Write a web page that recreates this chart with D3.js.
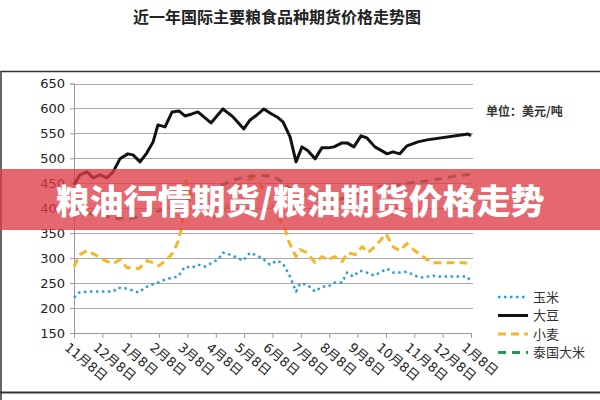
<!DOCTYPE html>
<html>
  <head>
    <meta charset="utf-8">
    <title>近一年国际主要粮食品种期货价格走势图</title>
    <script src="https://d3js.org/d3.v7.min.js"></script>
    <style>
      body { margin: 0; background: #fff; }
      text { font-family: "DejaVu Sans", "Noto Sans CJK SC", sans-serif; }
    </style>
  </head>
  <body>
    <svg id="chart" width="600" height="400"></svg>
    <script>
      // x ticks, one per month
      let monthLabels = ["11月8日", "12月8日", "1月8日", "2月8日", "3月8日", "4月8日", "5月8日",
        "6月8日", "7月8日", "8月8日", "9月8日", "10月8日", "11月8日", "12月8日", "1月8日"];
      let yTicks = [150, 200, 250, 300, 350, 400, 450, 500, 550, 600, 650];

      // [months since first tick, price in USD/ton]
      let corn = [[0,221],[0.18,231],[0.46,233],[0.74,233],[1.02,233],[1.38,233],[1.55,241],[1.87,239],
        [2.08,235],[2.29,231],[2.5,241],[2.75,247],[2.96,251],[3.21,257],[3.46,261],[3.67,263],[3.91,283],
        [4.16,281],[4.37,287],[4.62,283],[4.87,291],[5.08,297],[5.25,311],[5.5,307],[5.75,301],[5.96,295],
        [6.21,311],[6.45,305],[6.66,299],[6.91,287],[7.16,295],[7.37,289],[7.62,263],[7.83,233],[7.97,249],
        [8.22,247],[8.5,233],[8.74,243],[8.96,243],[9.2,251],[9.45,251],[9.63,271],[9.84,263],[10.08,275],
        [10.33,271],[10.58,265],[10.79,271],[11.04,279],[11.25,271],[11.49,271],[11.74,273],[11.95,267],
        [12.2,261],[12.45,263],[12.66,265],[12.91,263],[13.15,263],[13.36,263],[13.61,263],[13.86,263],[14,253]];

      let soybean = [[0,447],[0.21,467],[0.46,473],[0.67,461],[0.92,467],[1.16,461],[1.38,473],[1.62,499],
        [1.9,509],[2.08,507],[2.33,493],[2.57,511],[2.79,533],[2.96,567],[3.21,563],[3.46,593],[3.7,595],
        [3.91,585],[4.16,589],[4.37,593],[4.83,571],[5.25,599],[5.61,583],[5.99,559],[6.21,577],[6.45,587],
        [6.7,599],[6.91,591],[7.16,583],[7.37,573],[7.62,543],[7.83,493],[8.04,523],[8.25,515],[8.5,499],
        [8.74,521],[8.96,521],[9.17,523],[9.45,531],[9.63,531],[9.87,523],[10.12,545],[10.33,541],[10.61,523],
        [10.86,515],[11.04,509],[11.25,513],[11.49,509],[11.74,525],[12.13,533],[12.45,537],[13.9,549],[14,545]];

      let wheat = [[0,283],[0.21,307],[0.46,315],[0.74,307],[1.02,297],[1.38,289],[1.62,297],[1.87,281],
        [2.08,281],[2.29,279],[2.57,295],[2.79,291],[3,285],[3.28,297],[3.49,311],[3.67,333],[3.81,365],
        [3.95,455],[4.15,420],[4.4,400],[4.6,390],[4.85,380],[5.1,385],[5.35,400],[5.6,420],[5.85,445],
        [6.1,455],[6.35,460],[6.6,445],[6.85,420],[7.1,395],[7.45,357],[7.6,330],[7.83,303],[7.97,317],
        [8.22,311],[8.5,291],[8.74,303],[8.96,297],[9.2,303],[9.45,293],[9.66,311],[9.91,307],[10.16,323],
        [10.37,311],[10.68,327],[11,349],[11.25,323],[11.49,315],[11.74,329],[12.02,315],[12.31,303],
        [12.62,291],[12.9,291],[13.15,291],[13.4,291],[13.79,291],[14,281]];

      let rice = [[0,395],[0.5,390],[1,385],[1.5,380],[2,380],[2.5,385],[3,395],[3.5,405],[4,415],[4.5,425],
        [5,440],[5.5,455],[6,462],[6.5,466],[7,464],[7.3,455],[7.6,440],[8,428],[8.5,420],[9,413],[9.5,420],
        [10,430],[10.5,440],[11,445],[11.5,448],[12,452],[12.5,455],[13,460],[13.5,465],[14,468]];

      let seriesNames = ["玉米", "大豆", "小麦", "泰国大米"];

      let svg = d3.select("#chart");

      let x = d3.scaleLinear().domain([0, 14]).range([74, 471]);
      let y = d3.scaleLinear().domain([150, 650]).range([333, 83.5]);

      // title
      svg.append("text")
        .attr("x", 277).attr("y", 23)
        .attr("text-anchor", "middle")
        .style("font-family", "'Noto Sans CJK SC'")
        .style("font-weight", "bold")
        .style("font-size", "16px")
        .style("fill", "#222")
        .text("近一年国际主要粮食品种期货价格走势图");

      // frame
      svg.append("path")
        .attr("d", "M1,400 V71.5 H600")
        .attr("fill", "none").attr("stroke", "#333").attr("stroke-width", 1.5);
      svg.append("line")
        .attr("x1", 0).attr("x2", 600).attr("y1", 392.5).attr("y2", 392.5)
        .attr("stroke", "#333").attr("stroke-width", 2);

      // gridlines
      svg.append("g").selectAll("line")
        .data(yTicks.slice(1))
        .enter().append("line")
        .attr("x1", x(0)).attr("x2", 473)
        .attr("y1", (d) => Math.round(y(d)) + 0.5).attr("y2", (d) => Math.round(y(d)) + 0.5)
        .attr("stroke", "#a8a8a8");

      // axes
      let yAxis = svg.append("g")
        .attr("transform", "translate(" + x(0) + ",0)")
        .call(d3.axisLeft(y).tickValues(yTicks).tickSize(4).tickPadding(5));
      yAxis.selectAll("text").style("font-size", "13px").style("fill", "#222");
      yAxis.selectAll("line, path").attr("stroke", "#999");

      let xAxis = svg.append("g")
        .attr("transform", "translate(0," + y(150) + ")")
        .call(d3.axisBottom(x).tickValues(d3.range(15)).tickFormat((i) => monthLabels[i]).tickSize(5));
      xAxis.selectAll("line, path").attr("stroke", "#999");
      xAxis.selectAll("text")
        .attr("x", 0).attr("y", 0).attr("dy", "0.8em")
        .attr("transform", "translate(-4,8) rotate(40)")
        .style("text-anchor", "start")
        .style("font-size", "13px")
        .style("fill", "#222");

      let line = d3.line().x((d) => x(d[0])).y((d) => y(d[1]));

      let styles = [
        { data: corn, color: "#2a9fd6", width: 2.5, dash: "2.5,3.5" },
        { data: soybean, color: "#111", width: 3, dash: null },
        { data: wheat, color: "#f2b72b", width: 3, dash: "8,5" },
        { data: rice, color: "#1f9a55", width: 3, dash: "8,6" }
      ];

      svg.append("g").selectAll("path")
        .data([styles[0], styles[3], styles[2], styles[1]])
        .enter().append("path")
        .attr("d", (d) => line(d.data))
        .attr("fill", "none")
        .attr("stroke", (d) => d.color)
        .attr("stroke-width", (d) => d.width)
        .attr("stroke-dasharray", (d) => d.dash)
        .attr("stroke-linejoin", "round");

      // unit label
      svg.append("text")
        .attr("x", 486).attr("y", 116)
        .style("font-family", "'Noto Sans CJK SC'")
        .style("font-size", "12px")
        .style("font-weight", "bold")
        .style("fill", "#333")
        .text("单位：美元/吨");

      // legend
      let legend = svg.append("g").selectAll("g")
        .data(styles)
        .enter().append("g")
        .attr("transform", (d, i) => "translate(498," + (297 + i * 18.5) + ")");
      legend.append("line")
        .attr("x1", 0).attr("x2", 30)
        .attr("stroke", (d) => d.color)
        .attr("stroke-width", (d) => d.width)
        .attr("stroke-dasharray", (d) => d.dash);
      legend.append("text")
        .attr("x", 35).attr("dy", "0.35em")
        .style("font-family", "'Noto Sans CJK SC'")
        .style("font-size", "13px")
        .style("fill", "#333")
        .text((d, i) => seriesNames[i]);

      // banner over the chart
      svg.append("rect")
        .attr("x", 0).attr("y", 169).attr("width", 600).attr("height", 61)
        .style("fill", "rgb(222,60,70)")
        .style("opacity", 0.78);
      svg.append("text")
        .attr("x", 300).attr("y", 214)
        .attr("text-anchor", "middle")
        .style("font-family", "'Noto Sans CJK SC'")
        .style("font-weight", 900)
        .style("font-size", "34px")
        .style("fill", "#fff")
        .text("粮油行情期货/粮油期货价格走势");
    </script>
  </body>
</html>
